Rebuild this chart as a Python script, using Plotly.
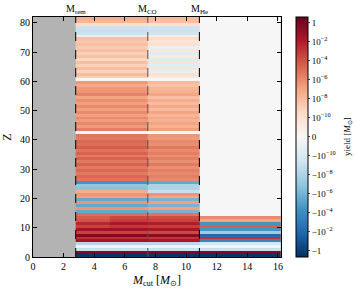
import numpy as np
import plotly.graph_objects as go

# Element charge numbers (rows)
Z = list(range(1, 83))

# Mass coordinates of the dashed markers [M_sun]
M_rem = 2.79
M_CO = 7.5
M_He = 10.87
M_max = 16.2
M_split = 5.0

# Yields [M_sun] per Z, for each mass-cut band
yield_A1 = [-2.5, 0.63, -1e-9, -3e-11, -4e-9, 4e-2, 1.6e-3, 0.4, 4e-4, 4e-2,
            4e-4, 4e-3, 1e-4, 4e-5, 1e-5, -4e-6, 4e-7, -4e-6, 4e-7, -4e-6,
            1.6e-7, 4e-7, 4e-8, -1.6e-7, -1e-7, -4e-5, 6.3e-6, 1.6e-5, 4e-6, 1.6e-5,
            4e-6, 2.5e-5, 4e-6, 2.5e-5, 4e-6, 2.5e-5, 6.3e-6, 4e-5, 1e-5, 1.6e-5,
            4e-6, 6.3e-6, 0, 2.5e-6, 2.5e-7, 1e-6, 2.5e-7, 1e-6, 1.6e-7, 1e-6,
            1.6e-7, 1e-6, 1.6e-7, 6.3e-7, 1e-7, 1.6e-6, 4e-7, 2.5e-7, 6.3e-8, 2.5e-7,
            0, 1.6e-9, 1e-8, 6.3e-10, 6.3e-9, 1e-9, 6.3e-9, 4e-10, 4e-9, 1e-9,
            6.3e-9, 1.6e-9, 6.3e-9, 2.5e-9, 6.3e-9, 5e-11, -6.3e-10, -1e-9, -6.3e-10, 2.5e-10,
            1.6e-8, 4e-8]
yield_A2 = [-2.5, 0.63, -1e-9, -3e-11, -4e-9, 4e-2, 1.6e-3, 0.4, 4e-4, 4e-2,
            1e-3, 1.6e-2, 6.3e-4, 2.5e-4, 1e-5, -4e-6, 4e-7, -4e-6, 4e-7, -4e-6,
            1.6e-7, 4e-7, 4e-8, -1.6e-7, -1e-7, -4e-5, 6.3e-6, 1.6e-5, 4e-6, 1.6e-5,
            4e-6, 2.5e-5, 4e-6, 2.5e-5, 4e-6, 2.5e-5, 6.3e-6, 4e-5, 1e-5, 1.6e-5,
            4e-6, 6.3e-6, 0, 2.5e-6, 2.5e-7, 1e-6, 2.5e-7, 1e-6, 1.6e-7, 1e-6,
            1.6e-7, 1e-6, 1.6e-7, 6.3e-7, 1e-7, 1.6e-6, 4e-7, 2.5e-7, 6.3e-8, 2.5e-7,
            0, 1.6e-9, 1e-8, 6.3e-10, 6.3e-9, 1e-9, 6.3e-9, 4e-10, 4e-9, 1e-9,
            6.3e-9, 1.6e-9, 6.3e-9, 2.5e-9, 6.3e-9, 5e-11, -6.3e-10, -1e-9, -6.3e-10, 2.5e-10,
            1.6e-8, 4e-8]
yield_B = [-2.5, 0.63, -1e-9, -3e-11, -4e-9, 2.5e-2, 1e-3, 0.25, 2.5e-4, 2.5e-2,
           6.3e-4, 1e-2, 4e-4, 1.6e-4, 6.3e-6, -1e-6, 1.6e-7, -1e-6, 1.6e-7, -1e-6,
           6.3e-8, 4e-7, -1e-9, -1e-8, -1e-8, -4e-6, 1e-6, 2.5e-6, 1e-6, 2.5e-6,
           6.3e-7, 4e-6, 6.3e-7, 2.5e-6, 6.3e-7, 2.5e-6, 1e-6, 4e-6, 6.3e-7, 1e-6,
           2.5e-7, 4e-7, 0, 1.6e-7, 2.5e-8, 1e-7, 2.5e-8, 6.3e-8, 1.6e-8, 1e-7,
           1e-8, 6.3e-8, 1e-8, 4e-8, 6.3e-9, 1e-7, 2.5e-8, 1.6e-8, 4e-9, 1e-8,
           0, 6e-11, 1e-10, -6e-11, 8e-11, -8e-11, 9e-11, -9e-11, 6e-11, -8e-11,
           7e-11, -6e-11, 1e-10, 8e-11, 2.5e-10, 4e-11, -4e-10, -6.3e-10, -4e-10, 1e-10,
           6.3e-9, 1e-8]
yield_C = [-2.5, 0.63, -1e-9, -2e-11, -2.5e-10, -2.5e-4, 1.6e-3, -1e-2, -4e-8, -4e-5,
           4e-5, -4e-5, 1e-7, 1e-6] + [0] * 68

lin_thresh = 1e-10
tick_vals = [6, 5, 4, 3, 2, 1, 0, -1, -2, -3, -4, -5, -6]
tick_text = ["1", "10<sup>−2</sup>", "10<sup>−4</sup>", "10<sup>−6</sup>", "10<sup>−8</sup>",
             "10<sup>−10</sup>", "0", "−10<sup>−10</sup>", "−10<sup>−8</sup>", "−10<sup>−6</sup>",
             "−10<sup>−4</sup>", "−10<sup>−2</sup>", "−1"]


def symlog(v):
    v = np.asarray(v, dtype=float)
    a = np.abs(v)
    out = np.where(a > lin_thresh,
                   np.sign(v) * (1 + np.log10(np.maximum(a, 1e-300) / lin_thresh) / 2),
                   v / lin_thresh)
    return out


zmat = np.column_stack([symlog(yield_A1), symlog(yield_A2), symlog(yield_B), symlog(yield_C)])
x_edges = [M_rem, M_split, M_CO, M_He, M_max]
y_edges = list(range(0, 83))

rdbu_r = ['#053061', '#2166ac', '#4393c3', '#92c5de', '#d1e5f0', '#f7f7f7',
          '#fddbc7', '#f4a582', '#d6604d', '#b2182b', '#67001f']
cscale = [[i / 10, c] for i, c in enumerate(rdbu_r)]

FONT = "Liberation Serif"

W, H = 356, 291
ML, MR, MT, MB = 33, 75, 17, 34
plot_w = W - ML - MR

fig = go.Figure()
fig.add_trace(go.Heatmap(
    x=x_edges, y=y_edges, z=zmat, colorscale=cscale, zmin=-6.35, zmax=6.3,
    zsmooth=False, hoverinfo="skip",
    colorbar=dict(
        x=1.06, xanchor="left", xpad=0, y=0.5, yanchor="middle", ypad=0,
        len=1.0, lenmode="fraction",
        thickness=12, outlinewidth=1, outlinecolor="black",
        tickvals=tick_vals, ticktext=tick_text, ticks="outside", ticklen=2,
        tickfont=dict(family=FONT, size=9, color="black"),
    ),
))

for xv, col in [(M_rem, "black"), (M_CO, "#555555"), (M_He, "black")]:
    fig.add_shape(type="line", x0=xv, x1=xv, y0=0, y1=1, xref="x", yref="paper",
                  line=dict(color=col, width=1, dash="dash"))

for xv, lab in [(M_rem, "M<sub>rem</sub>"), (M_CO, "M<sub>CO</sub>"), (M_He, "M<sub>He</sub>")]:
    fig.add_annotation(x=xv, y=1, xref="x", yref="paper", yanchor="bottom", yshift=-1,
                       text=lab, showarrow=False,
                       font=dict(family=FONT, size=10, color="black"))

# colour bar label
fig.add_annotation(x=(347 - ML) / plot_w, y=0.5, xref="paper", yref="paper",
                   text="yield [<i>M</i><sub>⊙</sub>]",
                   showarrow=False, textangle=-90, xanchor="center", yanchor="middle",
                   font=dict(family=FONT, size=9, color="black"))

axis_common = dict(showline=True, linecolor="black", linewidth=1, mirror="ticks",
                   ticks="inside", ticklen=4, tickcolor="black", showgrid=False,
                   zeroline=False, automargin=False,
                   tickfont=dict(family=FONT, size=10, color="black"))

fig.update_xaxes(range=[0, M_max], tickvals=list(range(0, 17, 2)),
                 title=dict(text="<i>M</i><sub>cut</sub> [<i>M</i><sub>⊙</sub>]",
                            font=dict(family=FONT, size=12, color="black"), standoff=4),
                 **axis_common)
fig.update_yaxes(range=[0, 82], tickvals=list(range(0, 81, 10)),
                 title=dict(text="Z", font=dict(family=FONT, size=12, color="black"), standoff=6),
                 **axis_common)

fig.update_layout(
    width=W, height=H,
    margin=dict(l=ML, r=MR, t=MT, b=MB, autoexpand=False),
    plot_bgcolor="#b3b3b3", paper_bgcolor="white",
    font=dict(family=FONT, color="black"),
    showlegend=False,
)

# remove the browser's default 8px page margin so the figure fills the window
fig.write_html("out.html", config={"displayModeBar": False},
               post_script="document.body.style.margin='0';")
